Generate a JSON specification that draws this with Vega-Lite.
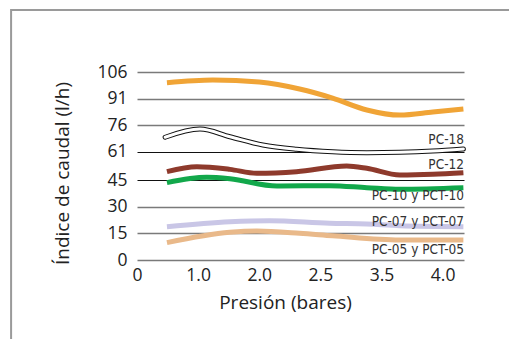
{
  "$schema": "https://vega.github.io/schema/vega-lite/v6.json",
  "width": 327,
  "height": 188,
  "autosize": "none",
  "padding": {"left": 137, "top": 72, "right": 45, "bottom": 79},
  "background": "white",
  "config": {"view": {"stroke": null}, "font": "Open Sans"},
  "datasets": {
    "curves": [
      {"serie": "PC-18", "p": 0.46, "q": 69.2},
      {"serie": "PC-18", "p": 1.03, "q": 73.8},
      {"serie": "PC-18", "p": 1.52, "q": 69.5},
      {"serie": "PC-18", "p": 2.06, "q": 64.8},
      {"serie": "PC-18", "p": 2.61, "q": 62.4},
      {"serie": "PC-18", "p": 3.2, "q": 61.0},
      {"serie": "PC-18", "p": 3.76, "q": 60.5},
      {"serie": "PC-18", "p": 4.3, "q": 60.7},
      {"serie": "PC-18", "p": 4.84, "q": 61.4},
      {"serie": "PC-18", "p": 5.34, "q": 62.6},
      {"serie": "PC-25", "p": 0.49, "q": 100.0},
      {"serie": "PC-25", "p": 1.24, "q": 101.5},
      {"serie": "PC-25", "p": 2.0, "q": 100.3},
      {"serie": "PC-25", "p": 2.66, "q": 96.4},
      {"serie": "PC-25", "p": 3.2, "q": 91.3},
      {"serie": "PC-25", "p": 3.76, "q": 84.6},
      {"serie": "PC-25", "p": 4.3, "q": 81.7},
      {"serie": "PC-25", "p": 4.84, "q": 83.4},
      {"serie": "PC-25", "p": 5.34, "q": 85.1},
      {"serie": "PC-12", "p": 0.49, "q": 49.8},
      {"serie": "PC-12", "p": 0.98, "q": 52.6},
      {"serie": "PC-12", "p": 1.52, "q": 51.1},
      {"serie": "PC-12", "p": 1.96, "q": 48.9},
      {"serie": "PC-12", "p": 2.61, "q": 49.8},
      {"serie": "PC-12", "p": 3.43, "q": 53.0},
      {"serie": "PC-12", "p": 3.76, "q": 51.7},
      {"serie": "PC-12", "p": 4.3, "q": 47.9},
      {"serie": "PC-12", "p": 4.84, "q": 48.3},
      {"serie": "PC-12", "p": 5.34, "q": 49.2},
      {"serie": "PC-10", "p": 0.49, "q": 43.6},
      {"serie": "PC-10", "p": 1.14, "q": 46.6},
      {"serie": "PC-10", "p": 1.52, "q": 45.8},
      {"serie": "PC-10", "p": 2.29, "q": 41.7},
      {"serie": "PC-10", "p": 3.15, "q": 41.9},
      {"serie": "PC-10", "p": 3.76, "q": 40.8},
      {"serie": "PC-10", "p": 4.3, "q": 39.9},
      {"serie": "PC-10", "p": 5.34, "q": 40.8},
      {"serie": "PC-07", "p": 0.49, "q": 18.8},
      {"serie": "PC-07", "p": 1.52, "q": 21.6},
      {"serie": "PC-07", "p": 2.17, "q": 22.2},
      {"serie": "PC-07", "p": 3.15, "q": 20.7},
      {"serie": "PC-07", "p": 3.76, "q": 20.3},
      {"serie": "PC-07", "p": 4.3, "q": 19.3},
      {"serie": "PC-07", "p": 5.34, "q": 18.8},
      {"serie": "PC-05", "p": 0.49, "q": 9.8},
      {"serie": "PC-05", "p": 1.52, "q": 15.6},
      {"serie": "PC-05", "p": 1.96, "q": 16.3},
      {"serie": "PC-05", "p": 2.66, "q": 15.1},
      {"serie": "PC-05", "p": 3.2, "q": 13.7},
      {"serie": "PC-05", "p": 4.3, "q": 11.3},
      {"serie": "PC-05", "p": 5.34, "q": 11.3}
    ],
    "labels": [
      {"label": "PC-18", "q": 67.8},
      {"label": "PC-12", "q": 53.6},
      {"label": "PC-10 y PCT-10", "q": 36.0},
      {"label": "PC-07 y PCT-07", "q": 21.4},
      {"label": "PC-05 y PCT-05", "q": 5.6}
    ]
  },
  "layer": [
    {
      "data": {"values": [{}]},
      "mark": {"type": "rect", "fill": null, "stroke": "#9a9a9a", "strokeWidth": 2},
      "encoding": {
        "x": {"datum": -2.06, "type": "quantitative", "scale": {"domain": [0, 5.35], "nice": false, "zero": false},
          "axis": {"values": [0, 1, 2, 3, 4, 5], "tickCount": 10, "labelExpr": "['0','1.0','2.0','2.5','3.5','4.0'][datum.value]", "domain": false, "ticks": false, "grid": false, "labelOverlap": false, "labelFlush": false, "labelFontSize": 17.5, "labelColor": "#222", "labelPadding": 6, "title": "Presión (bares)", "titleFontSize": 19, "titleFontWeight": "normal", "titleColor": "#222", "titleX": 148, "titlePadding": 10}},
        "x2": {"datum": 6.3},
        "y": {"datum": 140.9, "type": "quantitative", "scale": {"domain": [0, 106], "nice": false, "zero": false},
          "axis": {"values": [0, 15, 30, 45, 61, 76, 91, 106], "tickCount": 10, "domain": false, "ticks": false, "grid": true, "labelOverlap": false, "labelFlush": false,
            "gridColor": {"condition": {"test": "datum.value == 45 || datum.value == 61", "value": "#111111"}, "value": "#7a7a7a"},
            "gridWidth": {"condition": {"test": "datum.value == 45 || datum.value == 61", "value": 1}, "value": 1.6},
            "gridOpacity": 1,
            "labelFontSize": 17.5, "labelColor": "#222", "labelPadding": 10, "title": "Índice de caudal (l/h)", "titleFontSize": 19, "titleFontWeight": "normal", "titleColor": "#222", "titlePadding": 24, "titleY": 101}},
        "y2": {"datum": -50}
      }
    },
    {
      "data": {"name": "curves"},
      "transform": [{"filter": "datum.serie == 'PC-18'"}],
      "mark": {"type": "line", "interpolate": "monotone", "stroke": "#111111", "strokeWidth": 5, "strokeCap": "round"},
      "encoding": {
        "x": {"field": "p", "type": "quantitative"},
        "y": {"field": "q", "type": "quantitative"}
      }
    },
    {
      "data": {"name": "curves"},
      "transform": [{"filter": "datum.serie == 'PC-18'"}],
      "mark": {"type": "line", "interpolate": "monotone", "stroke": "white", "strokeWidth": 3, "strokeCap": "round"},
      "encoding": {
        "x": {"field": "p", "type": "quantitative"},
        "y": {"field": "q", "type": "quantitative"}
      }
    },
    {
      "data": {"name": "curves"},
      "transform": [{"filter": "datum.serie != 'PC-18'"}],
      "mark": {"type": "line", "interpolate": "monotone", "strokeWidth": 5},
      "encoding": {
        "x": {"field": "p", "type": "quantitative"},
        "y": {"field": "q", "type": "quantitative"},
        "color": {"field": "serie", "type": "nominal", "legend": null,
          "scale": {"domain": ["PC-25", "PC-12", "PC-10", "PC-07", "PC-05"], "range": ["#f0a436", "#8e3a2c", "#12a84b", "#c9c6e6", "#e9b98a"]}}
      }
    },
    {
      "data": {"name": "labels"},
      "mark": {"type": "text", "align": "right", "baseline": "middle", "font": "DejaVu Sans Condensed", "fontSize": 13.5, "color": "#333333"},
      "encoding": {
        "x": {"datum": 5.35, "type": "quantitative"},
        "y": {"field": "q", "type": "quantitative"},
        "text": {"field": "label"}
      }
    }
  ]
}
